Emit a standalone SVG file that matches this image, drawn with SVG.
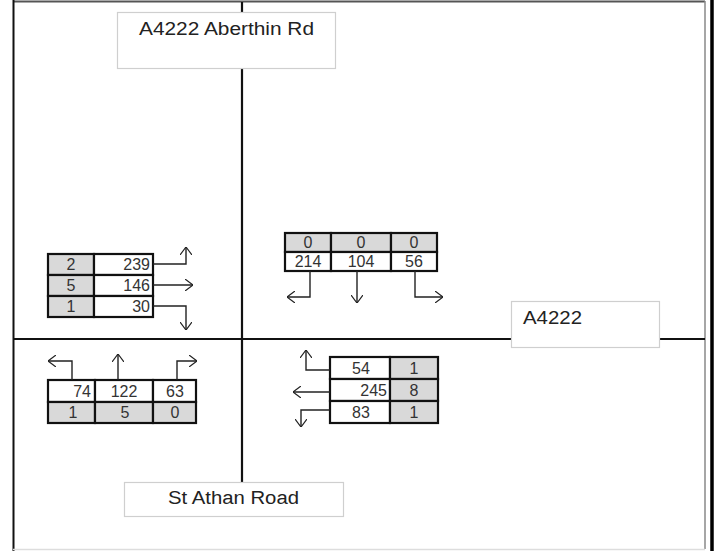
<svg xmlns="http://www.w3.org/2000/svg" width="717" height="551" viewBox="0 0 717 551">
<style>
.road{stroke:#111;stroke-width:2.2;fill:none}
.lbl{fill:#fff;stroke:#cfcfcf;stroke-width:1.2}
.lt{font-family:"Liberation Sans",Arial,sans-serif;font-size:18px;fill:#222}
.cell{stroke:#111;stroke-width:2.2}
.w{fill:#fff}
.g{fill:#d9d9d9}
.n{font-family:"Liberation Sans",Arial,sans-serif;font-size:16px;fill:#333}
.c{text-anchor:middle}
.r{text-anchor:end}
.arr{stroke:#222;stroke-width:1.4;fill:none;marker-end:url(#ah)}
</style>
<defs>
<marker id="ah" viewBox="0 0 8 12" refX="8" refY="6" markerWidth="8" markerHeight="12" markerUnits="userSpaceOnUse" orient="auto">
<path d="M0,0 L8,6 L0,12" fill="none" stroke="#222" stroke-width="1.2"/>
</marker>
</defs>
<rect width="717" height="551" fill="#fff"/>
<g id="frame">
<line x1="13" y1="1.5" x2="705" y2="1.5" stroke="#555" stroke-width="2"/>
<line x1="13.5" y1="0" x2="13.5" y2="551" stroke="#111" stroke-width="2"/>
<line x1="705" y1="1" x2="705" y2="549" stroke="#888" stroke-width="1.5"/>
<line x1="13" y1="549.5" x2="705" y2="549.5" stroke="#ddd" stroke-width="1.5"/>
<line x1="712" y1="0" x2="712" y2="551" stroke="#000" stroke-width="3.5"/>
</g>
<g id="roads">
<line class="road" x1="242" y1="2" x2="242" y2="482"/>
<line class="road" x1="14" y1="339" x2="511" y2="339"/>
<line class="road" x1="659" y1="339" x2="705" y2="339"/>
</g>
<g id="label-north">
<rect class="lbl" x="117.5" y="12.5" width="218" height="56"/>
<text class="lt" x="139" y="35" textLength="175" lengthAdjust="spacingAndGlyphs">A4222 Aberthin Rd</text>
</g>
<g id="label-east">
<rect class="lbl" x="511.5" y="301.5" width="148" height="46"/>
<text class="lt" x="523" y="324" textLength="59" lengthAdjust="spacingAndGlyphs">A4222</text>
</g>
<g id="label-south">
<rect class="lbl" x="124.5" y="482.5" width="219" height="34"/>
<text class="lt" x="168" y="504" textLength="131" lengthAdjust="spacingAndGlyphs">St Athan Road</text>
</g>
<g id="table-west">
<rect class="cell g" x="48" y="254" width="46" height="21"/>
<rect class="cell w" x="94" y="254" width="59" height="21"/>
<rect class="cell g" x="48" y="275" width="46" height="21"/>
<rect class="cell w" x="94" y="275" width="59" height="21"/>
<rect class="cell g" x="48" y="296" width="46" height="21"/>
<rect class="cell w" x="94" y="296" width="59" height="21"/>
<text class="n c" x="71" y="270">2</text>
<text class="n r" x="150" y="270">239</text>
<text class="n c" x="71" y="291">5</text>
<text class="n r" x="150" y="291">146</text>
<text class="n c" x="71" y="312">1</text>
<text class="n r" x="150" y="312">30</text>
</g>
<g id="table-north">
<rect class="cell g" x="285" y="233" width="46" height="19"/>
<rect class="cell g" x="331" y="233" width="60" height="19"/>
<rect class="cell g" x="391" y="233" width="46" height="19"/>
<rect class="cell w" x="285" y="252" width="46" height="19"/>
<rect class="cell w" x="331" y="252" width="60" height="19"/>
<rect class="cell w" x="391" y="252" width="46" height="19"/>
<text class="n c" x="308" y="248">0</text>
<text class="n c" x="361" y="248">0</text>
<text class="n c" x="414" y="248">0</text>
<text class="n c" x="308" y="267">214</text>
<text class="n c" x="361" y="267">104</text>
<text class="n c" x="414" y="267">56</text>
</g>
<g id="table-south">
<rect class="cell w" x="48" y="380" width="47" height="22"/>
<rect class="cell w" x="95" y="380" width="58" height="22"/>
<rect class="cell w" x="153" y="380" width="43" height="22"/>
<rect class="cell g" x="48" y="402" width="47" height="21"/>
<rect class="cell g" x="95" y="402" width="58" height="21"/>
<rect class="cell g" x="153" y="402" width="43" height="21"/>
<text class="n r" x="91" y="397">74</text>
<text class="n c" x="124" y="397">122</text>
<text class="n c" x="175" y="397">63</text>
<text class="n c" x="73" y="418">1</text>
<text class="n c" x="125" y="418">5</text>
<text class="n c" x="175" y="418">0</text>
</g>
<g id="table-east">
<rect class="cell w" x="330" y="357" width="60" height="22"/>
<rect class="cell g" x="390" y="357" width="48" height="22"/>
<rect class="cell w" x="330" y="379" width="60" height="22"/>
<rect class="cell g" x="390" y="379" width="48" height="22"/>
<rect class="cell w" x="330" y="401" width="60" height="22"/>
<rect class="cell g" x="390" y="401" width="48" height="22"/>
<text class="n c" x="361" y="374">54</text>
<text class="n c" x="414" y="374">1</text>
<text class="n r" x="387" y="396">245</text>
<text class="n c" x="414" y="396">8</text>
<text class="n c" x="361" y="418">83</text>
<text class="n c" x="414" y="418">1</text>
</g>
<g id="connectors">
<path class="arr" d="M153,264 H186 V247"/>
<path class="arr" d="M153,285 H193"/>
<path class="arr" d="M153,306 H186 V330"/>
<path class="arr" d="M310,271 V297 H287"/>
<path class="arr" d="M357,271 V303"/>
<path class="arr" d="M415,271 V297 H443"/>
<path class="arr" d="M72,380 V361 H48"/>
<path class="arr" d="M118,380 V354"/>
<path class="arr" d="M177,380 V361 H197"/>
<path class="arr" d="M330,370 H306 V350"/>
<path class="arr" d="M330,392 H293"/>
<path class="arr" d="M330,410 H301 V427"/>
</g>
</svg>
